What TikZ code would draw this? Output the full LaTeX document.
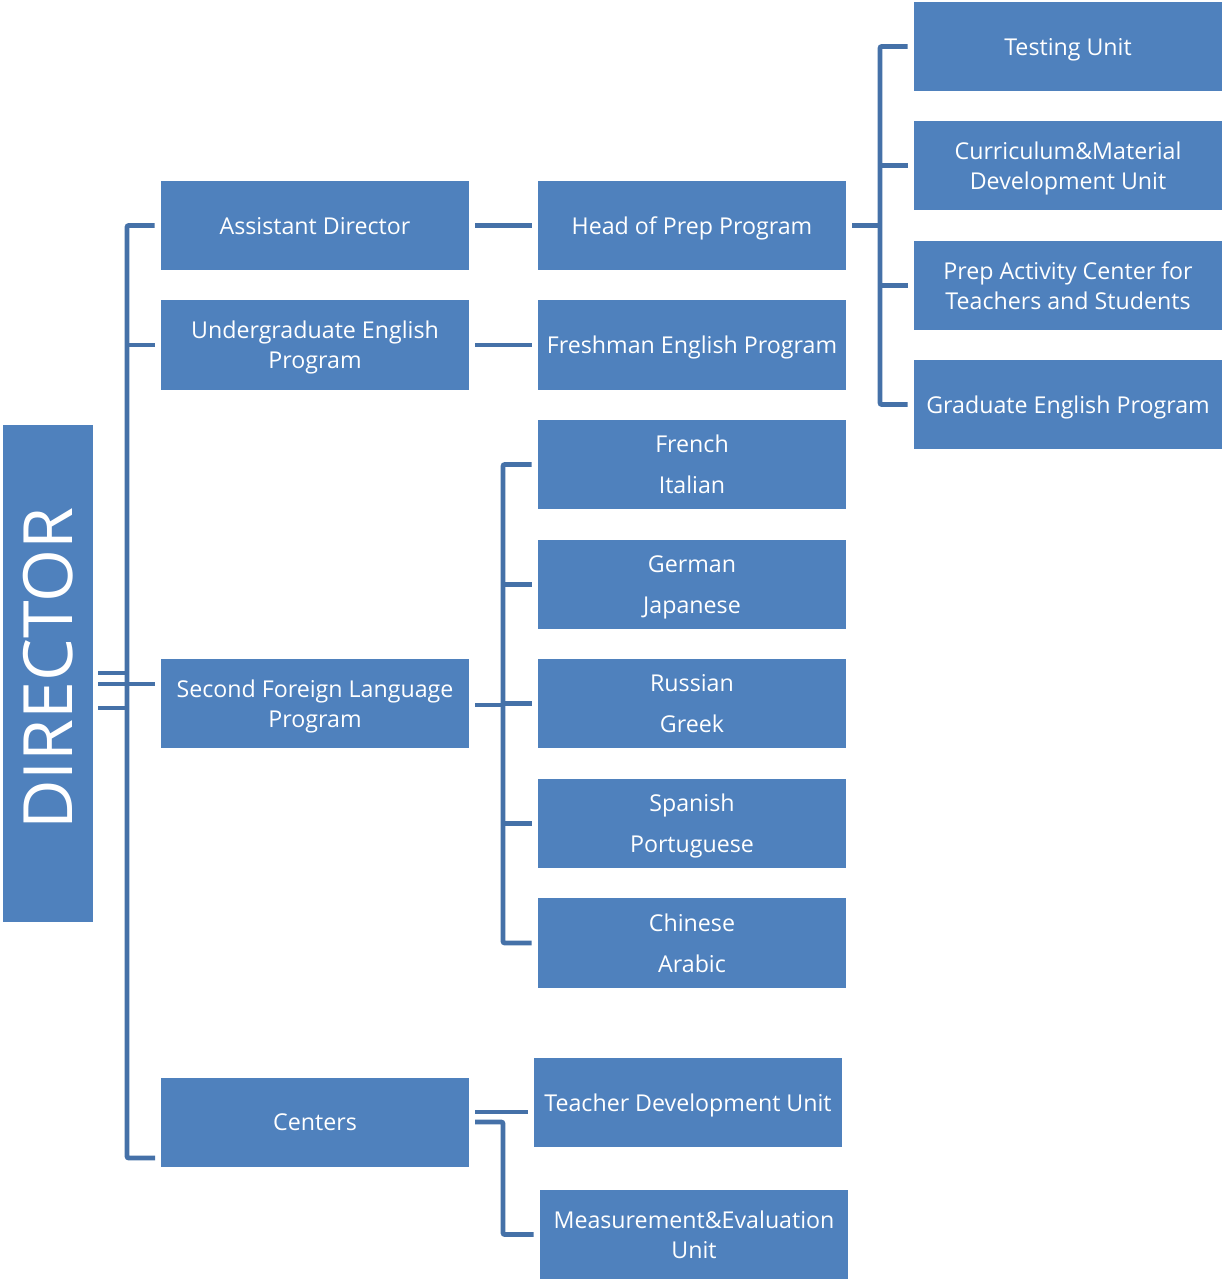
\documentclass[tikz,border=0pt]{standalone}
\usepackage{fontspec}
\setmainfont{Open Sans}
\definecolor{boxblue}{HTML}{4F81BD}
\definecolor{lineblue}{HTML}{4571A8}
\begin{document}
\begin{tikzpicture}[x=0.75pt,y=-0.75pt,
  orgbox/.style={fill=boxblue,text=white,draw=none,minimum width=231pt,minimum height=67pt,inner sep=0pt,text depth=0pt,align=center,font=\fontsize{17.4pt}{22.5pt}\selectfont},
  langbox/.style={orgbox,font=\fontsize{17.4pt}{30.5pt}\selectfont},
  conn/.style={draw=lineblue,line width=3.7pt,rounded corners=1.5pt}]
\useasboundingbox (0,0) rectangle (1223,1280);
% director
\node[fill=boxblue,text=white,rotate=90,minimum width=372.75pt,minimum height=67.5pt,inner sep=0pt,font=\fontsize{51pt}{54pt}\selectfont] (dir) at (48,673.5) {\hspace*{7.5pt}DIRECTOR};
% column 1
\node[orgbox] (ad) at (315,225.5) {Assistant Director};
\node[orgbox] (ug) at (315,345) {Undergraduate English\\Program};
\node[orgbox] (sfl) at (315,703.5) {Second Foreign Language\\Program};
\node[orgbox] (cen) at (315,1122.5) {Centers};
% column 2
\node[orgbox] (head) at (692,225.5) {Head of Prep Program};
\node[orgbox] (fresh) at (692,345) {Freshman English Program};
\node[langbox] (l1) at (692,464.5) {French\\Italian};
\node[langbox] (l2) at (692,584.5) {German\\Japanese};
\node[langbox] (l3) at (692,703.5) {Russian\\Greek};
\node[langbox] (l4) at (692,823.5) {Spanish\\Portuguese};
\node[langbox] (l5) at (692,943) {Chinese\\Arabic};
\node[orgbox] (tdu) at (688,1102.5) {Teacher Development Unit};
\node[orgbox] (meu) at (694,1234.5) {Measurement\&Evaluation\\Unit};
% column 3
\node[orgbox] (test) at (1068,46.5) {Testing Unit};
\node[orgbox] (cmd) at (1068,165.5) {Curriculum\&Material\\Development Unit};
\node[orgbox] (pac) at (1068,285.5) {Prep Activity Center for\\Teachers and Students};
\node[orgbox] (gep) at (1068,404.5) {Graduate English Program};
% helper coordinates
\coordinate (lb) at (127,0);
\coordinate (hb) at (880,0);
\coordinate (sb) at (503,0);
\coordinate (lbot) at (155,1158);
\coordinate (dA) at (98,673);
\coordinate (dB) at (155,684);
\coordinate (dC) at (98,708);
\coordinate (sflj) at (475,705);
\coordinate (cj1) at (475,1112);
\coordinate (cj2) at (475,1122);
% director bracket
\draw[conn] ([xshift=-4.5pt]ad.west) -| (lb |- lbot) -- (lbot);
\draw[conn] ([xshift=-4.5pt]ug.west) -- (lb |- ug.west);
\draw[conn] ([xshift=3.75pt]dir.south |- dB) -- (dB);
\draw[conn] ([xshift=3.75pt]dir.south |- dA) -- (lb |- dA);
\draw[conn] ([xshift=3.75pt]dir.south |- dC) -- (lb |- dC);
% col1 to col2
\draw[conn] ([xshift=4.5pt]ad.east) -- ([xshift=-4.5pt]head.west);
\draw[conn] ([xshift=4.5pt]ug.east) -- ([xshift=-4.5pt]fresh.west);
% head bracket
\draw[conn] ([xshift=4.5pt]head.east) -- (hb |- head.east);
\draw[conn] ([xshift=-4.5pt]test.west) -| (hb |- gep.west) -- ([xshift=-4.5pt]gep.west);
\draw[conn] ([xshift=-4.5pt]cmd.west) -- (hb |- cmd.west);
\draw[conn] ([xshift=-4.5pt]pac.west) -- (hb |- pac.west);
% language bracket
\draw[conn] (sflj) -- (sb |- sflj);
\draw[conn] ([xshift=-4.5pt]l1.west) -| (sb |- l5.west) -- ([xshift=-4.5pt]l5.west);
\draw[conn] ([xshift=-4.5pt]l2.west) -- (sb |- l2.west);
\draw[conn] ([xshift=-4.5pt]l3.west) -- (sb |- l3.west);
\draw[conn] ([xshift=-4.5pt]l4.west) -- (sb |- l4.west);
% centers
\draw[conn] (cj1) -- ([xshift=-4.5pt]tdu.west |- cj1);
\draw[conn] (cj2) -| (sb |- meu.west) -- ([xshift=-4.5pt]meu.west);
\end{tikzpicture}
\end{document}
